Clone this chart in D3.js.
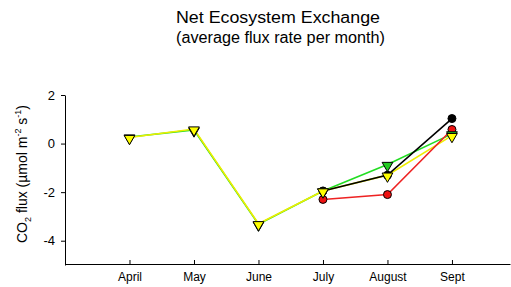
<!DOCTYPE html>
<html><head><meta charset="utf-8">
<script src="https://cdn.jsdelivr.net/npm/d3@7"></script>
<style>body{margin:0;background:#fff}svg{display:block}text{font-family:Arial,"Liberation Sans",sans-serif}</style>
</head><body>
<svg id="c" width="511" height="287"></svg>
<script>
const months = ["April","May","June","July","August","Sept"];
const yTicks = [2,0,-2,-4];
const green  = [0.27, 0.56, -3.32, -1.95, -0.86, 0.40];
const yellow = [0.25, 0.60, -3.30, -1.95, -1.30, 0.33];
const black  = [null, null, null, -1.95, -1.30, 1.03];
const red    = [null, null, null, -2.30, -2.10, 0.58];

const svg = d3.select("#c");
const x = d3.scaleLinear().domain([0, 6.9]).range([65, 510]);
const y = d3.scaleLinear().domain([-5, 2]).range([265, 95]);

// axes
const gx = svg.append("g").attr("transform","translate(0,264)")
  .call(d3.axisBottom(x).tickValues([1,2,3,4,5,6]).tickFormat(d=>months[d-1]).tickSizeInner(-4).tickSizeOuter(0).tickPadding(8));
const gy = svg.append("g").attr("transform","translate(65,0)")
  .call(d3.axisLeft(y).tickValues(yTicks).tickFormat(d=>String(d)).tickSizeInner(4).tickSizeOuter(0).tickPadding(6));
[gx,gy].forEach(g=>{g.select(".domain").attr("stroke","#000").attr("stroke-width",1);
  g.selectAll("text").attr("font-size",12).attr("fill","#000").attr("font-family","Arial, Liberation Sans, sans-serif");});
gy.selectAll("text").attr("font-size",13);

const line = d3.line().defined(d=>d.v!==null).x(d=>x(d.i+1)).y(d=>y(d.v));
const mk = arr => arr.map((v,i)=>({v,i}));
const series = [
  {data:green, color:"#22dd22", marker:"tri", fill:"#22cc22"},
  {data:yellow, color:"#eeee00", marker:"tri", fill:"#ffff00"},
  {data:red, color:"#ee2222", marker:"circ", fill:"#ee1111"},
  {data:black, color:"#000", marker:"circ", fill:"#000"}
];
series.forEach(s=>{
  svg.append("path").datum(mk(s.data)).attr("d",line).attr("fill","none")
    .attr("stroke",s.color).attr("stroke-width",1.6);
});
const tri = d3.symbol().type(d3.symbolTriangle).size(50);
const drawMarkers = s => {
  const pts = mk(s.data).filter(d=>d.v!==null);
  if (s.marker==="circ") {
    svg.append("g").selectAll("circle").data(pts).join("circle")
      .attr("cx",d=>x(d.i+1)).attr("cy",d=>y(d.v)).attr("r",4)
      .attr("fill",s.fill).attr("stroke","#000").attr("stroke-width",1);
  } else {
    svg.append("g").selectAll("path").data(pts).join("path")
      .attr("d",tri).attr("transform",d=>`translate(${x(d.i+1)},${y(d.v)+1}) rotate(180)`)
      .attr("fill",s.fill).attr("stroke","#000").attr("stroke-width",1);
  }
};
[series[3], series[2], series[0], series[1]].forEach(drawMarkers);

// title
const t = svg.append("text").attr("x",176).attr("font-size",16).attr("fill","#000");
t.append("tspan").attr("x",176).attr("y",23).attr("textLength",204).attr("lengthAdjust","spacingAndGlyphs").text("Net Ecosystem Exchange");
t.append("tspan").attr("x",176).attr("y",43).attr("textLength",209).attr("lengthAdjust","spacingAndGlyphs").text("(average flux rate per month)");

// y label
const yl = svg.append("text").attr("transform","translate(27,174) rotate(-90)")
  .attr("text-anchor","middle").attr("font-size",14).attr("fill","#000");
yl.append("tspan").text("CO");
yl.append("tspan").attr("font-size",9).attr("dy",4).text("2");
yl.append("tspan").attr("dy",-4).text(" flux (µmol m");
yl.append("tspan").attr("font-size",9).attr("dy",-6).text("-2");
yl.append("tspan").attr("dy",6).text(" s");
yl.append("tspan").attr("font-size",9).attr("dy",-6).text("-1");
yl.append("tspan").attr("dy",6).text(")");
</script>
</body></html>
